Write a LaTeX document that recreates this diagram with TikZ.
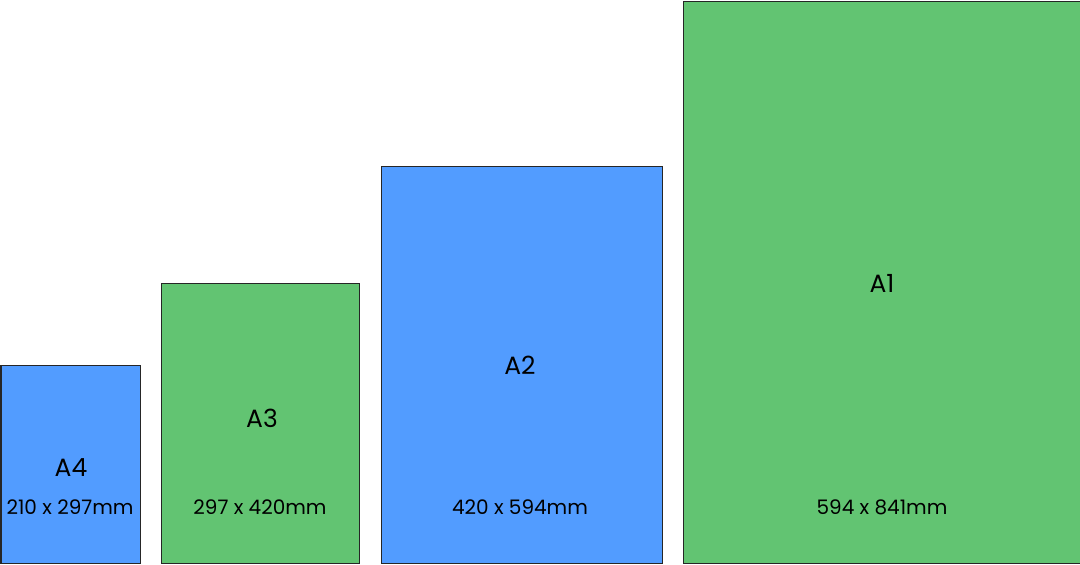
\documentclass[tikz,border=0pt]{standalone}
\usepackage{fontspec}
\setmainfont{Poppins}
\usepackage{xcolor}
\usetikzlibrary{positioning}
\definecolor{sheetblue}{HTML}{529CFF}
\definecolor{sheetgreen}{HTML}{62C472}

\begin{document}
\begin{tikzpicture}[
    x=0.5pt, y=-0.5pt,
    sheet/.style={draw=black!85, line width=0.6pt, anchor=north west,
                  inner sep=0pt},
    bluesheet/.style={sheet, fill=sheetblue},
    greensheet/.style={sheet, fill=sheetgreen},
    sizename/.style={font=\fontsize{12.5}{14}\selectfont},
    dims/.style={font=\fontsize{10}{12}\selectfont}
]
\useasboundingbox (0,0) rectangle (1080,564);
\node[bluesheet, minimum width=69.5pt, minimum height=99pt] (a4) at (0.5,365) {};
\node[greensheet, minimum width=99pt, minimum height=140pt] (a3) at (161,283) {};
\node[bluesheet, minimum width=140.5pt, minimum height=198.5pt] (a2) at (380.5,166) {};
\node[greensheet, minimum width=198.5pt, minimum height=281pt] (a1) at (682.5,0.8) {};
% size names
\node[sizename] (a4name) at (71,468) {A4};
\node[sizename] (a3name) at (262,418) {A3};
\node[sizename] (a2name) at (520,365) {A2};
\node[sizename] (a1name) at (882,283) {A1};
% dimensions
\node[dims] (a4dims) at (70,507) {210 x 297mm};
\node[dims] (a3dims) at (260,507) {297 x 420mm};
\node[dims] (a2dims) at (520,507) {420 x 594mm};
\node[dims] (a1dims) at (882,507) {594 x 841mm};
\end{tikzpicture}
\end{document}
